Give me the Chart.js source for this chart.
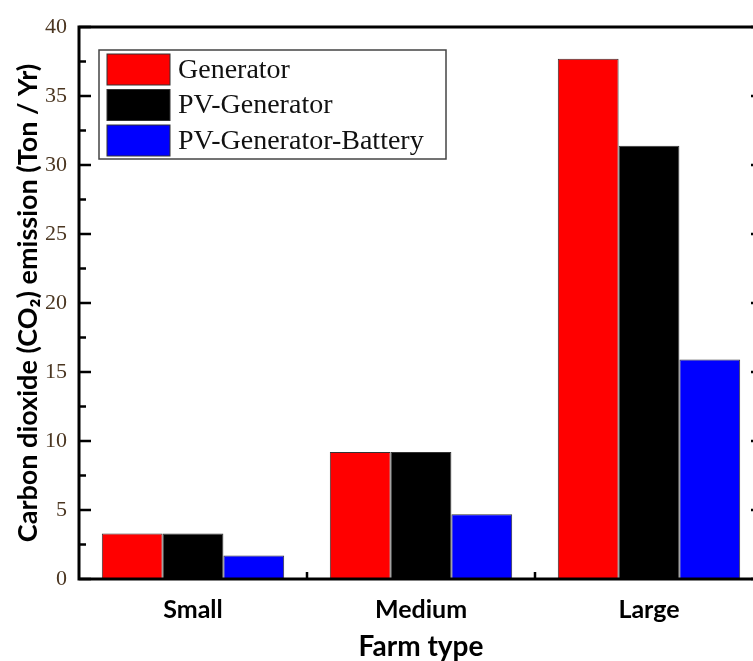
<!DOCTYPE html>
<html>
<head>
<meta charset="utf-8">
<script src="https://cdn.jsdelivr.net/npm/chart.js@4.4.0/dist/chart.umd.min.js"></script>
<style>
  html, body { margin: 0; padding: 0; background: #fff; overflow: hidden; }
  #co2Chart { display: block; }
</style>
</head>
<body>
<canvas id="co2Chart" width="770" height="661"></canvas>
<script>
// Farm categories and emissions (Ton / Yr)
var farmTypes = ['Small', 'Medium', 'Large'];
var generator = [3.3, 9.2, 37.7];
var pvGenerator = [3.3, 9.2, 31.4];
var pvGeneratorBattery = [1.7, 4.7, 15.9];
var seriesNames = ['Generator', 'PV-Generator', 'PV-Generator-Battery'];
var seriesColors = ['#ff0000', '#000000', '#0000ff'];

// Plot frame with inward ticks, like the origin-style figure
const framePlugin = {
    id: 'frame',
    afterDatasetsDraw(chart) {
        const ctx = chart.ctx;
        const a = chart.chartArea;
        const x = chart.scales.x;
        const y = chart.scales.y;
        ctx.save();
        ctx.strokeStyle = '#000';
        ctx.lineWidth = 3;
        ctx.strokeRect(a.left, a.top, a.right - a.left, a.bottom - a.top);
        ctx.lineWidth = 2.5;
        ctx.beginPath();
        y.ticks.forEach(t => {
            const py = y.getPixelForValue(t.value);
            const len = t.value % 5 === 0 ? 12 : 7;
            ctx.moveTo(a.left, py); ctx.lineTo(a.left + len, py);
            ctx.moveTo(a.right, py); ctx.lineTo(a.right - len, py);
        });
        for (let i = 1; i < farmTypes.length; i++) {
            const px = x.getPixelForValue(i - 0.5);
            ctx.moveTo(px, a.bottom); ctx.lineTo(px, a.bottom - 7);
        }
        ctx.stroke();
        ctx.restore();
    }
};

// Boxed legend sitting inside the plot area
const boxLegend = {
    id: 'boxLegend',
    afterDraw(chart, args, opts) {
        const ctx = chart.ctx;
        const a = chart.chartArea;
        const left = a.left + opts.dx;
        const top = a.top + opts.dy;
        ctx.save();
        ctx.strokeStyle = '#444';
        ctx.lineWidth = 1.5;
        ctx.strokeRect(left, top, opts.width, opts.height);
        ctx.font = opts.font;
        ctx.textBaseline = 'middle';
        chart.data.datasets.forEach((d, i) => {
            const ry = top + 4 + i * opts.pitch;
            ctx.fillStyle = d.backgroundColor;
            ctx.fillRect(left + 8, ry, opts.swatchW, opts.swatchH);
            ctx.strokeStyle = '#333';
            ctx.lineWidth = 1;
            ctx.strokeRect(left + 8, ry, opts.swatchW, opts.swatchH);
            ctx.fillStyle = '#111';
            ctx.fillText(d.label, left + 8 + opts.swatchW + 8, ry + opts.swatchH / 2 + 1);
        });
        ctx.restore();
    }
};

function makeDataset(i, values) {
    return {
        label: seriesNames[i],
        data: values,
        backgroundColor: seriesColors[i],
        borderColor: '#333',
        borderWidth: 1,
        barPercentage: 1.0,
        categoryPercentage: 0.8
    };
}

var ctx = document.getElementById('co2Chart').getContext('2d');
var co2Chart = new Chart(ctx, {
    type: 'bar',
    data: {
        labels: farmTypes,
        datasets: [
            makeDataset(0, generator),
            makeDataset(1, pvGenerator),
            makeDataset(2, pvGeneratorBattery)
        ]
    },
    options: {
        responsive: false,
        animation: false,
        layout: { padding: { top: 27, right: 7, left: 0, bottom: 0 } },
        plugins: {
            legend: { display: false },
            tooltip: { enabled: false },
            boxLegend: {
                dx: 20, dy: 23, width: 347, height: 109,
                swatchW: 63, swatchH: 31, pitch: 35.5,
                font: '28px "Liberation Serif"'
            }
        },
        scales: {
            x: {
                grid: { display: false, drawTicks: false },
                border: { display: false },
                ticks: {
                    color: '#000',
                    padding: 16,
                    font: { family: 'Lato', weight: 'bold', size: 25 }
                },
                title: {
                    display: true,
                    text: 'Farm type',
                    color: '#000',
                    font: { family: 'Lato', weight: 'bold', size: 28, lineHeight: 1 },
                    padding: { top: 0, bottom: 0 }
                },
                afterFit: function (scale) { scale.height = 82; }
            },
            y: {
                min: 0,
                max: 40,
                grid: { display: false, drawTicks: false },
                border: { display: false },
                ticks: {
                    stepSize: 2.5,
                    color: '#4b3621',
                    padding: 12,
                    font: { family: 'Liberation Serif', size: 22 },
                    callback: function (v) { return v % 5 === 0 ? v : ''; }
                },
                title: {
                    display: true,
                    text: 'Carbon dioxide (CO\u2082) emission (Ton / Yr)',
                    color: '#000',
                    font: { family: 'Lato', weight: 'bold', size: 27, lineHeight: 1.2 },
                    padding: { top: 12, bottom: 0 }
                },
                afterFit: function (scale) { scale.width = 79; }
            }
        }
    },
    plugins: [framePlugin, boxLegend]
});
</script>
</body>
</html>
